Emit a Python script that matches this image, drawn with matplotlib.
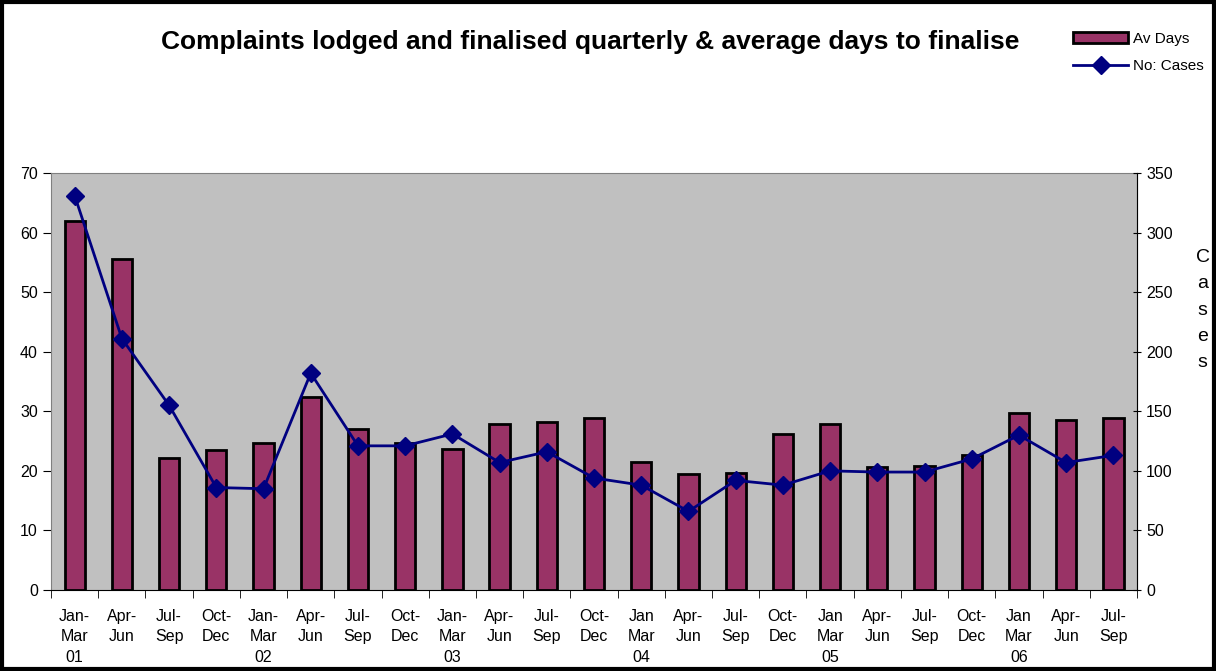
import numpy as np
import matplotlib.pyplot as plt
from matplotlib.patches import Rectangle

plt.rcParams['font.family'] = ['Liberation Sans', 'DejaVu Sans']

quarters = ['Jan-\nMar\n01', 'Apr-\nJun', 'Jul-\nSep', 'Oct-\nDec',
            'Jan-\nMar\n02', 'Apr-\nJun', 'Jul-\nSep', 'Oct-\nDec',
            'Jan-\nMar\n03', 'Apr-\nJun', 'Jul-\nSep', 'Oct-\nDec',
            'Jan\nMar\n04', 'Apr-\nJun', 'Jul-\nSep', 'Oct-\nDec',
            'Jan\nMar\n05', 'Apr-\nJun', 'Jul-\nSep', 'Oct-\nDec',
            'Jan\nMar\n06', 'Apr-\nJun', 'Jul-\nSep']
av_days = [62, 55.5, 22.1, 23.5, 24.7, 32.4, 27.1, 24.6, 23.7, 27.8, 28.2, 28.9,
           21.5, 19.5, 19.6, 26.2, 27.9, 20.7, 20.8, 22.6, 29.7, 28.5, 28.8]
no_cases = [331, 211, 155, 86, 85, 182, 121, 121, 131, 107, 116, 94,
            88, 66, 92, 88, 100, 99, 99, 110, 130, 107, 113]

x = np.arange(len(quarters))

fig = plt.figure(figsize=(12.16, 6.71), dpi=100)
ax = fig.add_axes([0.042, 0.1207, 0.893, 0.6215])
ax.set_facecolor('#C0C0C0')
ax.bar(x, av_days, width=0.43, color='#993366', edgecolor='black',
       linewidth=2, label='Av Days', zorder=2)
ax.set_xlim(-0.5, len(x) - 0.5)
ax.set_ylim(0, 70)
ax.set_yticks(range(0, 71, 10))
ax.set_xticks(x)
ax.set_xticklabels(quarters, fontsize=11.5, linespacing=1.42, va='top')
ax.set_xticks(np.arange(-0.5, len(x), 1), minor=True)
ax.tick_params(axis='x', which='major', length=0, pad=14)
ax.tick_params(axis='x', which='minor', length=6, direction='out', color='black')
ax.tick_params(axis='y', labelsize=11.5, length=6, direction='out', color='black')
for s in ['top', 'right', 'left']:
    ax.spines[s].set_color('#808080')
ax.spines['bottom'].set_color('black')

ax2 = ax.twinx()
ax2.plot(x, no_cases, color='#000080', marker='D', markersize=9, linewidth=2,
         label='No: Cases', zorder=3)
ax2.set_ylim(0, 350)
ax2.set_yticks(range(0, 351, 50))
ax2.tick_params(axis='y', labelsize=11.5, length=6, direction='inout', color='black')
ax2.spines['right'].set_color('black')
for s in ['top', 'left', 'bottom']:
    ax2.spines[s].set_visible(False)

fig.text(0.485, 0.937, 'Complaints lodged and finalised quarterly & average days to finalise',
         ha='center', va='center', fontsize=19, fontweight='bold')
fig.text(0.989, 0.538, 'C\na\ns\ne\ns', ha='center', va='center', fontsize=14,
         linespacing=1.7)

h1, l1 = ax.get_legend_handles_labels()
h2, l2 = ax2.get_legend_handles_labels()
fig.legend(h1 + h2, l1 + l2, loc='upper right', bbox_to_anchor=(0.995, 0.962),
           frameon=False, fontsize=11, handlelength=3.6, handletextpad=0.3,
           labelspacing=0.9, borderaxespad=0)

fig.patches.append(Rectangle((0.002, 0.003), 0.996, 0.994, transform=fig.transFigure,
                             fill=False, edgecolor='black', linewidth=3))

fig.savefig('out.png', dpi=100)
